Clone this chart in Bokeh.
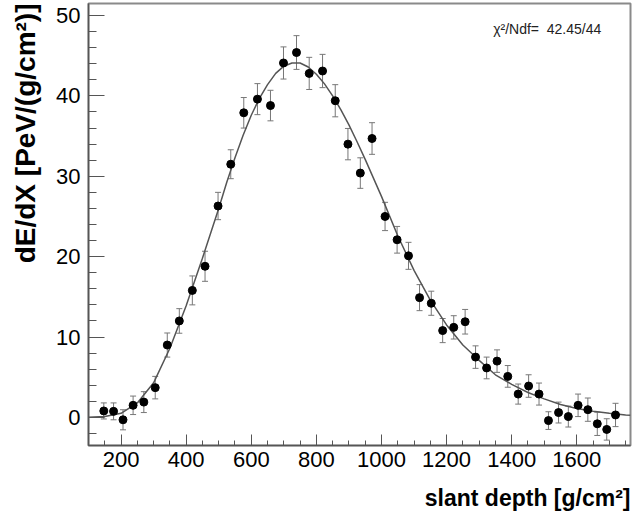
from bokeh.plotting import figure
from bokeh.models import (ColumnDataSource, Whisker, TeeHead, Title, Label,
                          Range1d, FixedTicker)
from bokeh.embed import file_html
from bokeh.resources import INLINE

# ---- data ----
depth = [147, 177, 206, 237, 270, 305, 342, 379, 419, 458, 498, 537, 577, 619,
         659, 699, 739, 778, 819, 858, 897, 935, 971, 1011, 1048, 1083, 1117,
         1153, 1188, 1222, 1257, 1289, 1323, 1355, 1388, 1420, 1452, 1484,
         1513, 1544, 1574, 1604, 1634, 1663, 1692, 1719]
dedx = [0.8, 0.75, -0.3, 1.5, 1.9, 3.7, 9.0, 12.0, 15.8, 18.8, 26.3, 31.5,
        37.9, 39.6, 38.8, 44.1, 45.4, 42.8, 43.1, 39.4, 34.0, 30.4, 34.7,
        25.0, 22.1, 20.1, 14.9, 14.2, 10.8, 11.2, 11.9, 7.5, 6.15, 7.0, 5.1,
        2.9, 3.9, 2.9, -0.4, 0.6, 0.1, 1.5, 0.96, -0.8, -1.5, 0.3]
err = [1.0, 1.05, 1.25, 1.15, 1.3, 1.4, 1.5, 1.53, 1.8, 1.87, 1.7, 1.8, 1.9,
       1.93, 1.9, 2.0, 2.1, 2.0, 2.07, 2.0, 1.95, 1.9, 1.97, 1.76, 1.66, 1.68,
       1.62, 1.5, 1.5, 1.45, 1.53, 1.4, 1.35, 1.4, 1.35, 1.25, 1.4, 1.37, 1.1,
       1.3, 1.3, 1.4, 1.45, 1.45, 1.33, 1.45]

# fitted curve
fit_x = [100, 150, 200, 250, 300, 350, 400, 450, 500, 525, 550, 575, 600,
         625, 650, 675, 700, 725, 750, 775, 800, 825, 850, 875, 900, 925,
         950, 975, 1000, 1050, 1100, 1150, 1200, 1250, 1300, 1350, 1400,
         1450, 1500, 1550, 1600, 1650, 1700, 1750, 1765]
fit_y = [0.0, 0.1, 0.5, 1.8, 4.3, 8.6, 13.9, 19.8, 26.0, 29.3, 32.3, 35.1,
         37.6, 39.7, 41.4, 42.8, 43.7, 44.1, 44.1, 43.6, 42.7, 41.5, 40.0,
         38.3, 36.4, 34.3, 32.1, 29.8, 27.5, 22.6, 18.3, 14.6, 11.5, 9.0,
         7.1, 5.3, 4.1, 3.1, 2.3, 1.6, 1.1, 0.75, 0.5, 0.3, 0.25]

x_ticks = [200, 400, 600, 800, 1000, 1200, 1400, 1600]
y_ticks = [0, 10, 20, 30, 40, 50]
fit_text = "\u03c7\u00b2/Ndf=\u00a0 42.45/44"
x_title = "slant depth [g/cm\u00b2]"
y_title = "dE/dX [PeV/(g/cm\u00b2)]"

src = ColumnDataSource(dict(
    x=depth, y=dedx,
    upper=[v + e for v, e in zip(dedx, err)],
    lower=[v - e for v, e in zip(dedx, err)],
))

FONT = "Liberation Sans"

p = figure(width=641, height=520, output_backend="svg", toolbar_location=None,
           x_range=Range1d(100, 1765), y_range=Range1d(-3.5, 51.5),
           min_border_left=88, min_border_right=11, min_border_top=3,
           min_border_bottom=75)
p.grid.visible = False
p.background_fill_color = "white"
p.border_fill_color = "white"
p.outline_line_color = "#8a8a8a"
p.outline_line_width = 2

for ax in (p.xaxis[0], p.yaxis[0]):
    ax.axis_line_color = "#555555"
    ax.axis_line_width = 1.5
    ax.major_tick_line_color = "#555555"
    ax.minor_tick_line_color = "#555555"
    ax.major_tick_out = 0
    ax.minor_tick_out = 0
    ax.major_label_text_font = FONT
    ax.major_label_text_font_size = "22px"
    ax.major_label_text_color = "black"

p.xaxis.ticker = FixedTicker(ticks=x_ticks,
                             minor_ticks=list(range(100, 1800, 50)))
p.yaxis.ticker = FixedTicker(ticks=y_ticks,
                             minor_ticks=list(range(-2, 52, 2)))
p.xaxis.major_tick_in = 11
p.xaxis.minor_tick_in = 5
p.yaxis.major_tick_in = 16
p.yaxis.minor_tick_in = 8
p.xaxis.major_label_standoff = 6
p.yaxis.major_label_standoff = 8

p.line(fit_x, fit_y, line_color="#555555", line_width=1.5)

tee = dict(size=6, line_color="#777777", line_width=1)
p.add_layout(Whisker(source=src, base="x", upper="upper", lower="lower",
                     line_color="#777777", line_width=1,
                     upper_head=TeeHead(**tee), lower_head=TeeHead(**tee)))
p.scatter("x", "y", source=src, size=8, color="black")

p.add_layout(Label(x=1343, y=49.3, text=fit_text, text_font=FONT,
                   text_font_size="14px", text_baseline="top",
                   text_color="#222222"))

# spacers between tick labels and axis titles
p.add_layout(Title(text=" ", text_font_size="10px", standoff=0), "left")
p.add_layout(Title(text=y_title, align="right", text_color="black",
                   text_font=FONT, text_font_size="28px",
                   text_font_style="bold", standoff=0), "left")
p.add_layout(Title(text=" ", text_font_size="5px", standoff=0), "below")
p.add_layout(Title(text=x_title, align="right", text_color="black",
                   text_font=FONT, text_font_size="23px",
                   text_font_style="bold", standoff=10), "below")

open("out.html", "w").write(file_html(p, INLINE))
